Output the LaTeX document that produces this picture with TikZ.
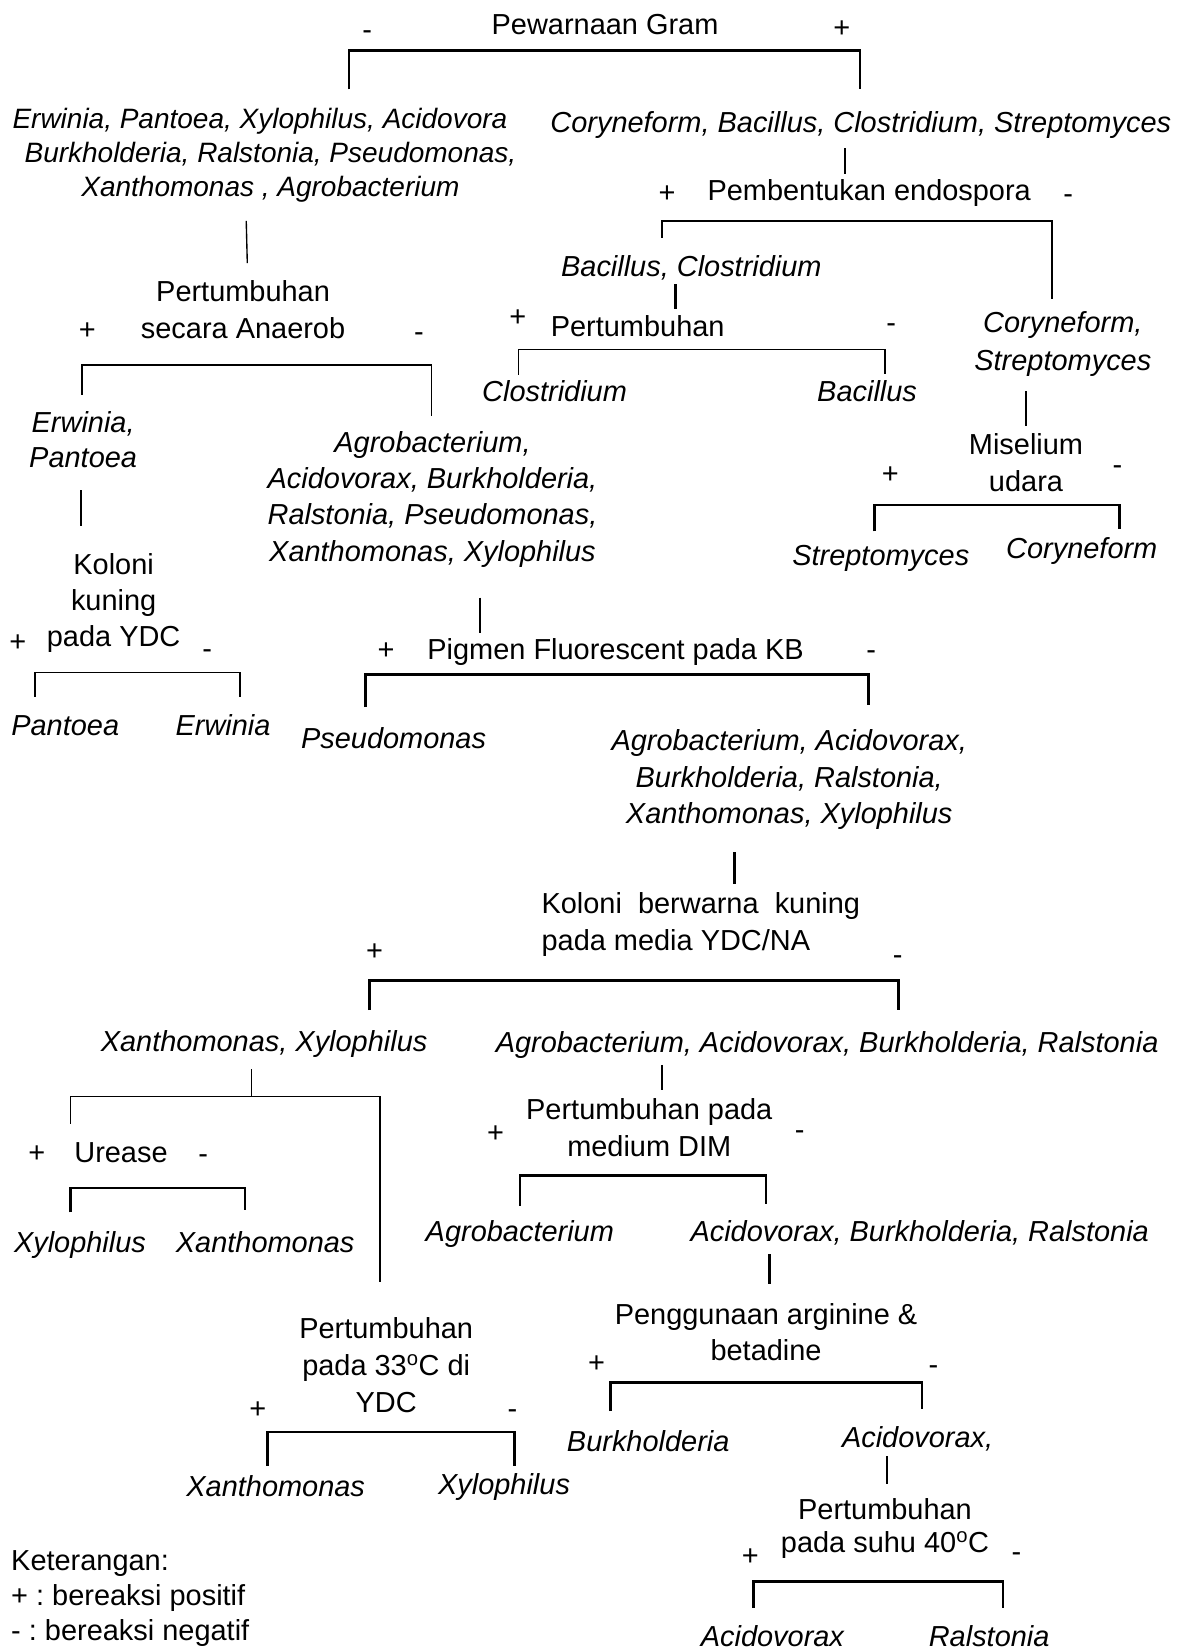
\documentclass[tikz,border=0pt]{standalone}
\usepackage{fontspec}
\setmainfont{Liberation Sans}
\frenchspacing
\begin{document}
\begin{tikzpicture}[x=1pt, y=-1pt, line width=1.3pt,
    lsp/.style={font=\fontsize{27.5}{#1}\selectfont},
    ilsp/.style={font=\fontsize{27.5}{#1}\selectfont\itshape},
    every node/.style={inner sep=0pt, lsp=34.5, text height=26pt, text depth=6pt},
    genus/.style={ilsp=34.5},
    blok/.style={align=center, text height=, text depth=},
    tebal/.style={line width=2.4pt}]
    \useasboundingbox (0,0) rectangle (1136,1568);

    % Pewarnaan Gram
    \node (gram) at (575,23) {Pewarnaan Gram};
    \node (gramneg) at (349,28) {-};
    \node (grampos) at (800,26) {+};
    \node[blok, font=\fontsize{26.6}{32}\selectfont\itshape] (gn) at (257,147.5) {Erwinia, Pantoea, Xylophilus, Acidovora\hspace*{20pt}\\Burkholderia, Ralstonia, Pseudomonas,\\Xanthomonas , Agrobacterium};
    \node[genus] (gp) at (818,116) {Coryneform, Bacillus, Clostridium, Streptomyces};
    \coordinate (gramL) at (332,85);
    \coordinate (gramR) at (817,85);
    \draw[line width=2pt] (gramL) -- ++(0,-37) -| (gramR);

    % Gram positif
    \coordinate (gpA) at (803,141);
    \coordinate (gpB) at (803,165);
    \draw (gpA) -- (gpB);
    \node (endopos) at (634,182) {+};
    \node (endo) at (826,181) {Pembentukan endospora};
    \node (endoneg) at (1015,183) {-};
    \coordinate (endoL) at (629,226);
    \coordinate (endoR) at (1000,284);
    \draw[line width=1.6pt] (endoL) -- ++(0,-16) -| (endoR);
    \node[genus] (bc) at (657,253) {Bacillus, Clostridium};
    \coordinate (bcA) at (642,270);
    \coordinate (bcB) at (642,294);
    \draw[tebal] (bcA) -- (bcB);
    \node (pbpos) at (492,300) {+};
    \node (pb) at (606,310) {Pertumbuhan};
    \node (pbneg) at (847,306) {-};
    \coordinate (pbL) at (493,356);
    \coordinate (pbR) at (841,355);
    \draw (pbL) -- ++(0,-24) -| (pbR);
    \node[genus] (clos) at (527,372) {Clostridium};
    \node[genus] (baci) at (824,372) {Bacillus};
    \node[blok, ilsp=36] (cs) at (1010,327) {Coryneform,\\Streptomyces};
    \coordinate (csA) at (975,372);
    \coordinate (csB) at (975,405);
    \draw[tebal] (csA) -- (csB);
    \node[blok, lsp=35] (misel) at (975,439.5) {Miselium\\udara};
    \node (miselpos) at (846,449) {+};
    \node (miselneg) at (1062,441) {-};
    \coordinate (miselL) at (831,505);
    \coordinate (miselR) at (1064,503);
    \draw[tebal] (miselL) -- ++(0,-25) -| (miselR);
    \node[genus] (strep) at (837,527) {Streptomyces};
    \node[genus] (cory) at (1028,521) {Coryneform};

    % Gram negatif
    \coordinate (gnA) at (234,210);
    \coordinate (gnB) at (235,250);
    \draw (gnA) -- (gnB);
    \node[blok, lsp=35] (anaer) at (231,294.5) {Pertumbuhan\\secara Anaerob};
    \node (anaerpos) at (83,313) {+};
    \node (anaerneg) at (398,315) {-};
    \coordinate (anaerL) at (78,375);
    \coordinate (anaerR) at (410,395);
    \draw (anaerL) -- ++(0,-28) -| (anaerR);
    \node[blok, ilsp=33] (ep) at (79,417.5) {Erwinia,\\Pantoea};
    \coordinate (epA) at (77,466);
    \coordinate (epB) at (77,500);
    \draw[tebal] (epA) -- (epB);
    \node[blok, lsp=34] (kuning) at (108,573) {Koloni\\kuning\\pada YDC};
    \node (kuningpos) at (17,609) {+};
    \node (kuningneg) at (197,616) {-};
    \coordinate (kuningL) at (33,662);
    \coordinate (kuningR) at (228,662);
    \draw[line width=1.6pt] (kuningL) -- ++(0,-23) -| (kuningR);
    \node[genus] (pant) at (62,689) {Pantoea};
    \node[genus] (erw) at (212,689) {Erwinia};

    \node[genus, blok] (agro1) at (411,474.5) {Agrobacterium,\\Acidovorax, Burkholderia,\\Ralstonia, Pseudomonas,\\Xanthomonas, Xylophilus};
    \coordinate (agro1A) at (456,568);
    \coordinate (agro1B) at (456,602);
    \draw[tebal] (agro1A) -- (agro1B);
    \node (pigmenpos) at (367,617) {+};
    \node (pigmen) at (585,617) {Pigmen Fluorescent pada KB};
    \node (pigmenneg) at (828,617) {-};
    \coordinate (pigmenL) at (347,672);
    \coordinate (pigmenR) at (825,670);
    \draw[line width=2.8pt] (pigmenL) -- ++(0,-31) -| (pigmenR);
    \node[genus] (pseu) at (374,701) {Pseudomonas};
    \node[genus, blok] (agro2) at (750,741) {Agrobacterium, Acidovorax,\\Burkholderia, Ralstonia,\\Xanthomonas, Xylophilus};
    \coordinate (agro2A) at (698,810);
    \coordinate (agro2B) at (698,840);
    \draw[tebal] (agro2A) -- (agro2B);
    \node[blok, lsp=35, align=left, anchor=west] (ydcna) at (514,878.5) {Koloni\ \ berwarna\ \ kuning\\pada media YDC/NA};
    \node (ydcnapos) at (356,903) {+};
    \node (ydcnaneg) at (853,907) {-};
    \coordinate (ydcnaL) at (351,960);
    \coordinate (ydcnaR) at (854,960);
    \draw[line width=2.8pt] (ydcnaL) -- ++(0,-28) -| (ydcnaR);
    \node[genus] (xx) at (251,989) {Xanthomonas, Xylophilus};
    \node[genus] (aabr) at (786,990) {Agrobacterium, Acidovorax, Burkholderia, Ralstonia};

    % Xanthomonas, Xylophilus
    \coordinate (xxA) at (239,1016);
    \coordinate (xxB) at (239,1042);
    \coordinate (xxL) at (67,1068);
    \coordinate (xxR) at (361,1218);
    \draw (xxA) -- (xxB);
    \draw (xxL) -- ++(0,-26) -| (xxR);
    \node (ureasepos) at (35,1095) {+};
    \node (urease) at (115,1095) {Urease};
    \node (ureaseneg) at (193,1096) {-};
    \coordinate (ureaseL) at (67,1152);
    \coordinate (ureaseR) at (233,1150);
    \draw[tebal] (ureaseL) -- ++(0,-23) -| (ureaseR);
    \node[genus] (xylo1) at (76,1180) {Xylophilus};
    \node[genus] (xant1) at (252,1180) {Xanthomonas};
    \node[blok, lsp=35] (suhu33) at (367,1297) {Pertumbuhan\\pada 33\textsuperscript{o}C di\\YDC};
    \node (suhu33pos) at (245,1338) {+};
    \node (suhu33neg) at (487,1338) {-};
    \coordinate (suhu33L) at (254,1393);
    \coordinate (suhu33R) at (489,1393);
    \draw[tebal] (suhu33L) -- ++(0,-32) -| (suhu33R);
    \node[genus] (xant2) at (262,1412) {Xanthomonas};
    \node[genus] (xylo2) at (479,1410) {Xylophilus};

    % Agrobacterium, Acidovorax, Burkholderia, Ralstonia
    \coordinate (aabrA) at (629,1012);
    \coordinate (aabrB) at (629,1036);
    \draw (aabrA) -- (aabrB);
    \node[blok, lsp=35] (dim) at (617,1071.5) {Pertumbuhan pada\\medium DIM};
    \node (dimpos) at (471,1076) {+};
    \node (dimneg) at (760,1073) {-};
    \coordinate (dimL) at (494,1146);
    \coordinate (dimR) at (728,1144);
    \draw[tebal] (dimL) -- ++(0,-29) -| (dimR);
    \node[genus] (agro3) at (494,1170) {Agrobacterium};
    \node[genus] (abr) at (874,1170) {Acidovorax, Burkholderia, Ralstonia};
    \coordinate (abrA) at (731,1192);
    \coordinate (abrB) at (731,1220);
    \draw[tebal] (abrA) -- (abrB);
    \node[blok, lsp=34] (argin) at (728,1266) {Penggunaan arginine \&\\betadine};
    \node (arginpos) at (567,1294) {+};
    \node (arginneg) at (887,1296) {-};
    \coordinate (arginL) at (580,1341);
    \coordinate (arginR) at (876,1339);
    \draw[tebal] (arginL) -- ++(0,-27) -| (arginR);
    \node[genus] (burk) at (616,1369) {Burkholderia};
    \node[genus] (acid1) at (872,1366) {Acidovorax,};
    \coordinate (acid1A) at (843,1384);
    \coordinate (acid1B) at (843,1410);
    \draw[tebal] (acid1A) -- (acid1B);
    \node[blok, lsp=31] (suhu40) at (841,1452.5) {Pertumbuhan\\pada suhu 40\textsuperscript{o}C};
    \node (suhu40pos) at (713,1478) {+};
    \node (suhu40neg) at (966,1474) {-};
    \coordinate (suhu40L) at (716,1528);
    \coordinate (suhu40R) at (953,1528);
    \draw[tebal] (suhu40L) -- ++(0,-25) -| (suhu40R);
    \node[genus] (acid2) at (734,1555) {Acidovorax};
    \node[genus] (rals) at (940,1555) {Ralstonia};

    % Keterangan
    \node[blok, lsp=33.5, align=left, anchor=west] (ket) at (10,1519) {Keterangan:\\+ : bereaksi positif\\- : bereaksi negatif};
\end{tikzpicture}
\end{document}
